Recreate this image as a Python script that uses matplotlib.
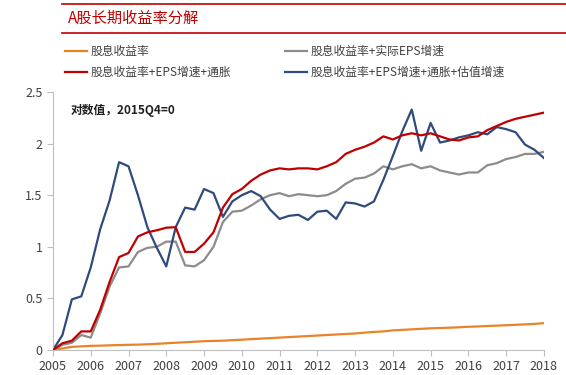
import matplotlib
matplotlib.use("Agg")
import matplotlib.pyplot as plt
from matplotlib.lines import Line2D
import numpy as np

plt.rcParams["font.family"] = ["Noto Sans CJK SC", "DejaVu Sans"]

# quarterly, 2005Q1 .. 2018Q1
start_year = 2005
dividend = [0.00, 0.015, 0.03, 0.035, 0.04, 0.042, 0.045, 0.048, 0.05, 0.052, 0.055, 0.06,
            0.065, 0.07, 0.075, 0.08, 0.085, 0.088, 0.09, 0.095, 0.10, 0.105, 0.11, 0.115,
            0.12, 0.125, 0.13, 0.135, 0.14, 0.145, 0.15, 0.155, 0.16, 0.168, 0.175, 0.18,
            0.19, 0.195, 0.20, 0.205, 0.21, 0.213, 0.216, 0.22, 0.225, 0.228, 0.232, 0.236,
            0.24, 0.244, 0.248, 0.253, 0.26]
real_eps = [0.00, 0.05, 0.07, 0.145, 0.12, 0.355, 0.615, 0.80, 0.81, 0.95, 0.99, 1.00,
            1.05, 1.05, 0.82, 0.81, 0.87, 1.00, 1.24, 1.34, 1.35, 1.40, 1.46, 1.50,
            1.52, 1.49, 1.51, 1.50, 1.49, 1.50, 1.54, 1.61, 1.66, 1.67, 1.71, 1.78,
            1.75, 1.78, 1.80, 1.76, 1.78, 1.74, 1.72, 1.70, 1.72, 1.72, 1.79, 1.81,
            1.85, 1.87, 1.90, 1.90, 1.92]
nominal = [0.00, 0.065, 0.09, 0.18, 0.18, 0.39, 0.66, 0.90, 0.94, 1.10, 1.14, 1.16,
           1.185, 1.19, 0.95, 0.95, 1.03, 1.14, 1.38, 1.51, 1.56, 1.64, 1.70, 1.74,
           1.76, 1.75, 1.76, 1.76, 1.75, 1.78, 1.82, 1.90, 1.94, 1.97, 2.01, 2.07,
           2.04, 2.08, 2.10, 2.08, 2.10, 2.07, 2.04, 2.03, 2.06, 2.07, 2.13, 2.17,
           2.21, 2.24, 2.26, 2.28, 2.30]
valuation = [0.00, 0.145, 0.49, 0.52, 0.80, 1.17, 1.45, 1.82, 1.78, 1.50, 1.19, 0.99,
             0.81, 1.19, 1.38, 1.36, 1.56, 1.52, 1.29, 1.44, 1.50, 1.54, 1.49, 1.36,
             1.27, 1.30, 1.31, 1.26, 1.34, 1.35, 1.27, 1.43, 1.42, 1.39, 1.44, 1.65,
             1.88, 2.12, 2.33, 1.93, 2.20, 2.01, 2.03, 2.06, 2.08, 2.11, 2.09, 2.16,
             2.14, 2.11, 1.99, 1.94, 1.86]
labels = ["股息收益率", "股息收益率+实际EPS增速", "股息收益率+EPS增速+通胀",
          "股息收益率+EPS增速+通胀+估值增速"]
colors = ["#E8832A", "#8C8C8C", "#C00000", "#2F4B7C"]
years = list(range(2005, 2019))
yticks = [0, 0.5, 1, 1.5, 2, 2.5]

t = start_year + np.arange(len(dividend)) / 4.0

fig = plt.figure(figsize=(5.66, 3.75), dpi=100)
ax = fig.add_axes([0.0936, 0.0667, 0.8674, 0.688])

series = [dividend, real_eps, nominal, valuation]
for i in [0, 1, 3, 2]:
    ax.plot(t, series[i], color=colors[i], lw=1.6, zorder=3 if i == 2 else 2)

ax.set_xlim(2005, 2018)
ax.set_ylim(0, 2.5)
ax.set_xticks(years)
ax.set_xticklabels([str(y) for y in years])
ax.set_yticks(yticks)
ax.set_yticklabels(["0", "0.5", "1", "1.5", "2", "2.5"])
for s in ["top", "right"]:
    ax.spines[s].set_visible(False)
for s in ["left", "bottom"]:
    ax.spines[s].set_color("#BFBFBF")
ax.tick_params(colors="#BFBFBF", labelcolor="#404040", labelsize=9, length=4, width=0.8)

ax.text(0.035, 0.93, "对数值，2015Q4=0", transform=ax.transAxes, fontsize=8.5,
        fontweight="bold", color="#202020", va="center")

# header
fig.add_artist(Line2D([62 / 566, 1], [1 - 4 / 375] * 2, color="#C00000", lw=1.2))
fig.add_artist(Line2D([62 / 566, 1], [1 - 33 / 375] * 2, color="#C00000", lw=1.2))
fig.text(68 / 566, 1 - 18 / 375, "A股长期收益率分解", color="#C00000", fontsize=11,
         va="center")

# legend: two rows, items placed row by row
for k in range(4):
    col, row = k % 2, k // 2
    x0 = (65 if col == 0 else 285) / 566
    y0 = 1 - (51 + 21 * row) / 375
    fig.add_artist(Line2D([x0, x0 + 22 / 566], [y0, y0], color=colors[k], lw=1.6))
    fig.text(x0 + 26 / 566, y0, labels[k], fontsize=8.5, color="#404040", va="center")

fig.savefig("out.png", dpi=100)
